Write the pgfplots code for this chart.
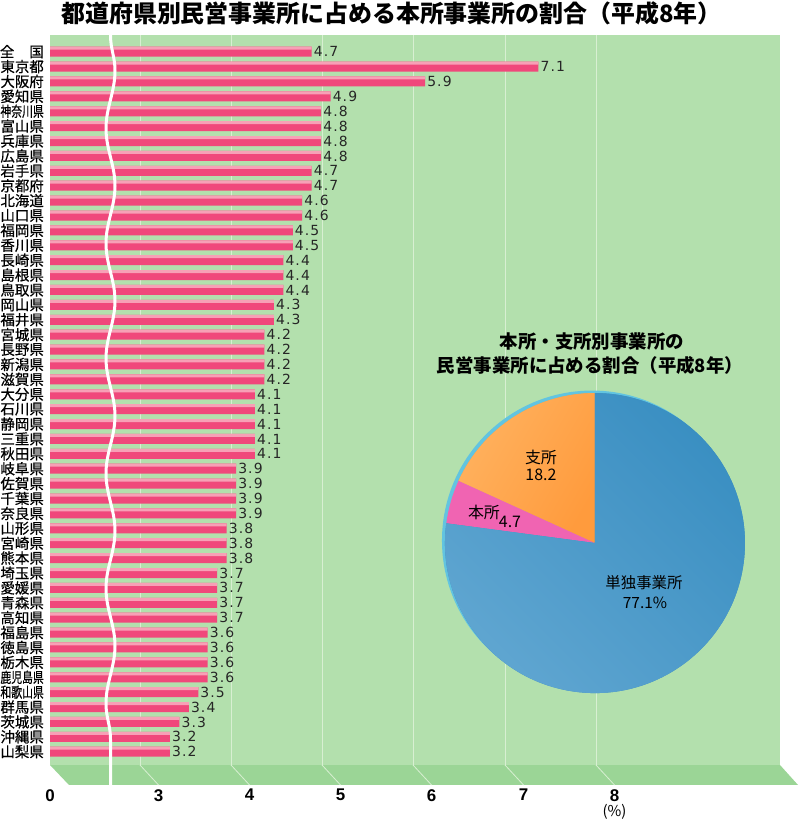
\documentclass[border=0pt]{standalone}
\usepackage{pgfplots}
\pgfplotsset{compat=1.18}
\usepackage{pgfplotstable}
\usepackage{graphicx}
\usepackage{fontspec}
\usetikzlibrary{decorations.pathmorphing}
\setmainfont{Noto Sans CJK JP}
\newfontfamily\cjk{Noto Sans CJK JP}
\newfontfamily\cjkmed[FakeBold=0.6]{Noto Sans CJK JP}
\newfontfamily\numfont[LetterSpace=8]{DejaVu Sans}
\newfontfamily\tickfont{Liberation Sans}

\definecolor{bggreen}{RGB}{179,224,173}
\definecolor{floorgreen}{RGB}{155,213,150}
\definecolor{gridgreen}{RGB}{216,239,210}
\definecolor{barpink}{RGB}{240,72,123}
\definecolor{barlight}{RGB}{247,160,182}
\definecolor{pieblue}{RGB}{58,143,194}
\definecolor{pieblueL}{RGB}{96,166,209}
\definecolor{pieorange}{RGB}{255,155,61}
\definecolor{pieorangeL}{RGB}{255,178,95}
\definecolor{piepink}{RGB}{240,100,178}
\definecolor{piecyan}{RGB}{98,196,224}

\newcommand\four[1]{\scalebox{0.75}[1]{#1}}

% y: row index from the bottom (山梨県 = 0, 全国 = 47), v: 本所事業所の割合 (%)
\pgfplotstableread{
y v
47 4.7
46 7.1
45 5.9
44 4.9
43 4.8
42 4.8
41 4.8
40 4.8
39 4.7
38 4.7
37 4.6
36 4.6
35 4.5
34 4.5
33 4.4
32 4.4
31 4.4
30 4.3
29 4.3
28 4.2
27 4.2
26 4.2
25 4.2
24 4.1
23 4.1
22 4.1
21 4.1
20 4.1
19 3.9
18 3.9
17 3.9
16 3.9
15 3.8
14 3.8
13 3.8
12 3.7
11 3.7
10 3.7
9 3.7
8 3.6
7 3.6
6 3.6
5 3.6
4 3.5
3 3.4
2 3.3
1 3.2
0 3.2
}\ratio

% pie: 単独事業所, 本所, 支所 (%)
\def\single{77.1}
\def\honsho{4.7}
\def\shisho{18.2}

\begin{document}
\begin{tikzpicture}
\useasboundingbox (0,0) rectangle (800bp,824bp);
\pgfmathsetmacro\aA{90+3.6*\shisho}
\pgfmathsetmacro\aB{\aA+3.6*\honsho}

% floor
\fill[floorgreen] (50bp,59bp) -- (780bp,59bp) -- (798bp,39bp) -- (69bp,39bp) -- cycle;
\foreach \gx in {140,231,322,413,505,596}
  \draw[gridgreen, line width=0.8bp] (\gx bp,59bp) -- ++(18.5bp,-20bp);

\node[font=\bfseries\fontsize{24}{24}\selectfont] at (391.5bp,811bp)
  {都道府県別民営事業所に占める本所事業所の割合（平成8年）};

\begin{axis}[
  at={(50bp,59bp)}, anchor=south west,
  scale only axis, width=730bp, height=730bp,
  xmin=1.931, xmax=9.656, ymin=-0.89, ymax=48.12,
  axis line style={draw=none},
  axis background/.style={fill=bggreen},
  xbar, bar width=10bp,
  major tick length=0pt,
  xtick={2.8836,3.8466,4.8095,5.7725,6.7460,7.7090},
  xticklabels={3,4,5,6,7,{8\\[-1bp]{\cjk\mdseries\fontsize{15}{15}\selectfont (\%)}}},
  xmajorgrids, grid style={gridgreen, line width=0.8bp},
  xticklabel style={font=\tickfont\bfseries\fontsize{17}{17}\selectfont,
    anchor=north, inner sep=0pt, xshift=18.5bp, yshift=-24bp, align=center},
  extra x ticks={1.931}, extra x tick labels={0},
  extra x tick style={grid=none, xticklabel style={xshift=-18.5bp}},
  ytick={0,...,47},
  yticklabels={山梨県,沖縄県,茨城県,群馬県,\four{和歌山県},\four{鹿児島県},栃木県,徳島県,福島県,高知県,
    青森県,愛媛県,埼玉県,熊本県,宮崎県,山形県,奈良県,千葉県,佐賀県,岐阜県,
    秋田県,三重県,静岡県,石川県,大分県,滋賀県,新潟県,長野県,宮城県,福井県,
    岡山県,鳥取県,島根県,長崎県,香川県,福岡県,山口県,北海道,京都府,岩手県,
    広島県,兵庫県,富山県,\four{神奈川県},愛知県,大阪府,東京都,全\hspace{15bp}国},
  yticklabel style={font=\cjkmed\fontsize{14.5}{14.5}\selectfont, anchor=east, inner sep=0pt, xshift=-6bp},
  /pgf/number format/assume math mode=true,
]
\addplot[xbar, fill=barpink, draw=none, bar shift=0pt, point meta=x,
  nodes near coords, nodes near coords align=horizontal,
  every node near coord/.append style={font=\numfont\fontsize{14}{14}\selectfont,
    text=black!85, inner sep=2bp},
  /pgf/number format/.cd, fixed, fixed zerofill, precision=1]
  table[x=v, y=y] {\ratio};
% lighter top face of each bar
\addplot[xbar, fill=barlight, draw=none, bar width=3bp, bar shift=3.5bp]
  table[x=v, y=y] {\ratio};

% inset pie
\coordinate (c) at (axis cs:7.698,14.01);
\fill[piecyan] ([shift={(-3bp,2.5bp)}]c) circle[radius=150bp];
\fill[pieorange, left color=pieorangeL, right color=pieorange, shading angle=60]
  (c) -- ++(90:150bp) arc[start angle=90, end angle=\aA, radius=150bp] -- cycle;
\fill[piepink] (c) -- ++(\aA:150bp) arc[start angle=\aA, end angle=\aB, radius=150bp] -- cycle;
\fill[pieblue, left color=pieblueL, right color=pieblue, shading angle=135]
  (c) -- ++(\aB:150bp) arc[start angle=\aB, end angle=450, radius=150bp] -- cycle;

\node[font=\bfseries\fontsize{18.5}{18.5}\selectfont] at ([shift={(-3bp,202bp)}]c) {本所・支所別事業所の};
\node[font=\bfseries\fontsize{18.5}{18.5}\selectfont] at ([shift={(-5bp,178bp)}]c) {民営事業所に占める割合（平成8年）};
\node[font=\fontsize{16}{16}\selectfont] at ([shift={(-54bp,86bp)}]c) {支所};
\node[font=\fontsize{16}{16}\selectfont] at ([shift={(-54bp,68bp)}]c) {18.2};
\node[font=\fontsize{16}{16}\selectfont] at ([shift={(-111bp,31bp)}]c) {本所};
\node[font=\fontsize{16}{16}\selectfont] at ([shift={(-85bp,21bp)}]c) {4.7};
\node[font=\fontsize{15.5}{15.5}\selectfont] at ([shift={(49bp,-40bp)}]c) {単独事業所};
\node[font=\fontsize{15.5}{15.5}\selectfont] at ([shift={(50bp,-60bp)}]c) {77.1\%};
\end{axis}

% axis break
\draw[white, line width=3bp, decorate, decoration={snake, segment length=115bp, amplitude=4.5bp}]
  (110.5bp,789bp) -- (110.5bp,31bp);
\end{tikzpicture}
\end{document}
